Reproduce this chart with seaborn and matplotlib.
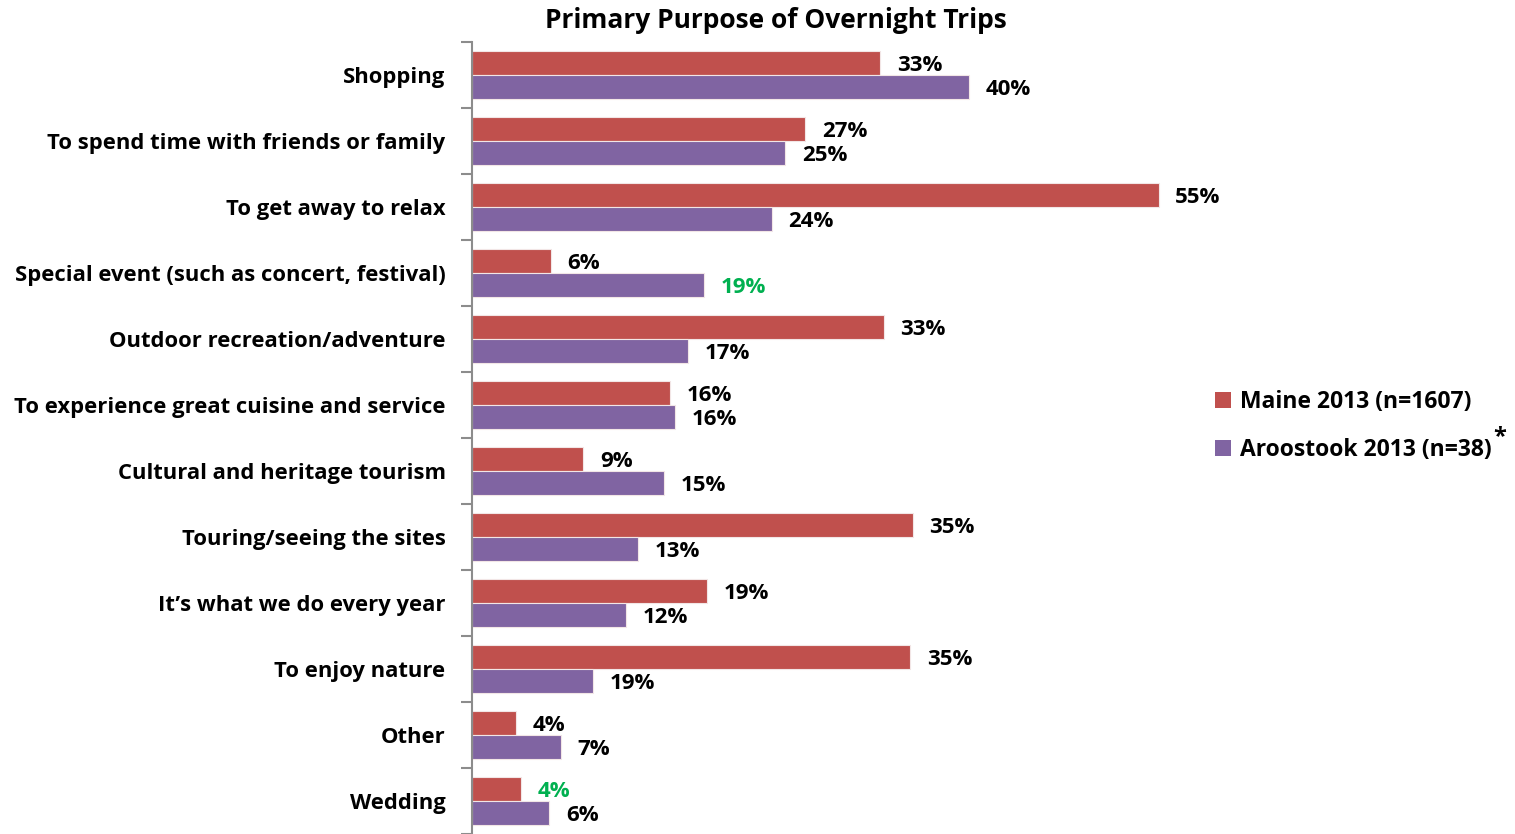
import matplotlib
matplotlib.use("Agg")
import matplotlib.pyplot as plt
import seaborn as sns
import pandas as pd
import numpy as np
from matplotlib.patches import Patch

categories = [
    "Shopping",
    "To spend time with friends or family",
    "To get away to relax",
    "Special event (such as concert, festival)",
    "Outdoor recreation/adventure",
    "To experience great cuisine and service",
    "Cultural and heritage tourism",
    "Touring/seeing the sites",
    "It\u2019s what we do every year",
    "To enjoy nature",
    "Other",
    "Wedding",
]
series_names = ["Maine 2013 (n=1607)", "Aroostook 2013 (n=38)"]
maine_values = [32.7, 26.7, 55.0, 6.3, 33.0, 15.9, 8.9, 35.3, 18.8, 35.1, 3.5, 3.9]
aroostook_values = [39.8, 25.1, 24.0, 18.6, 17.3, 16.3, 15.4, 13.3, 12.3, 9.7, 7.1, 6.2]
maine_labels = ["33%", "27%", "55%", "6%", "33%", "16%", "9%", "35%", "19%", "35%", "4%", "4%"]
aroostook_labels = ["40%", "25%", "24%", "19%", "17%", "16%", "15%", "13%", "12%", "19%", "7%", "6%"]
maine_label_colors = ["black"] * 11 + ["#00B050"]
aroostook_label_colors = ["black"] * 3 + ["#00B050"] + ["black"] * 8

RED = "#C0504D"
PURPLE = "#8064A2"

sns.set_theme(style="white")
plt.rcParams["font.family"] = ["Open Sans", "DejaVu Sans"]
plt.rcParams["font.weight"] = "bold"
plt.rcParams["text.color"] = "black"
plt.rcParams["ytick.labelcolor"] = "black"

df = pd.DataFrame({
    "category": categories * 2,
    "value": maine_values + aroostook_values,
    "series": [series_names[0]] * len(categories) + [series_names[1]] * len(categories),
})

fig = plt.figure(figsize=(15.15, 8.34), dpi=100)
ax = fig.add_axes([472 / 1515, 0.0, 749 / 1515, 792 / 834])

sns.barplot(data=df, y="category", x="value", hue="series", order=categories,
            hue_order=series_names, palette=[RED, PURPLE], orient="h",
            width=0.72, dodge=True, ax=ax, legend=False,
            edgecolor="#f2e6e6", linewidth=0.8, saturation=1)

ax.set_xlim(0, 60)
ax.set_ylim(11.5, -0.5)
ax.set_xlabel("")
ax.set_ylabel("")
ax.set_xticks([])
for s in ["top", "right", "bottom"]:
    ax.spines[s].set_visible(False)
ax.spines["left"].set_color("#8c8c8c")
ax.spines["left"].set_linewidth(1.5)

ax.set_yticks(range(len(categories)))
ax.set_yticklabels(categories, fontsize=15.8, fontweight="bold", color="black")
ax.tick_params(axis="y", which="major", length=0, pad=19)
ax.set_yticks(np.arange(-0.5, len(categories), 1.0), minor=True)
ax.tick_params(axis="y", which="minor", length=8, width=1.5, color="#8c8c8c", left=True)

label_sets = [(maine_labels, maine_label_colors), (aroostook_labels, aroostook_label_colors)]
for container, (labels, colors) in zip(ax.containers, label_sets):
    for bar, lab, col in zip(container, labels, colors):
        w = bar.get_width()
        yc = bar.get_y() + bar.get_height() / 2
        ax.annotate(lab, (w, yc), xytext=(12, -2), textcoords="offset points",
                    ha="left", va="center", fontsize=16, fontweight="bold",
                    color=col, annotation_clip=False)

fig.text(776 / 1515, 1 - 20 / 834, "Primary Purpose of Overnight Trips",
         ha="center", va="center", fontsize=19, fontweight="bold")

handles = [Patch(facecolor=RED, edgecolor="none"), Patch(facecolor=PURPLE, edgecolor="none")]
fig.legend(handles, series_names, loc="center left",
           bbox_to_anchor=(1194 / 1515, 1 - 426 / 834), frameon=False,
           prop={"size": 16.5, "weight": "bold"}, handlelength=0.7, handleheight=0.7,
           handletextpad=0.4, labelspacing=1.05)
fig.text(1500 / 1515, 1 - 437 / 834, "*", ha="center", va="center",
         fontsize=17, fontweight="bold")

fig.savefig("out.png", dpi=100)
